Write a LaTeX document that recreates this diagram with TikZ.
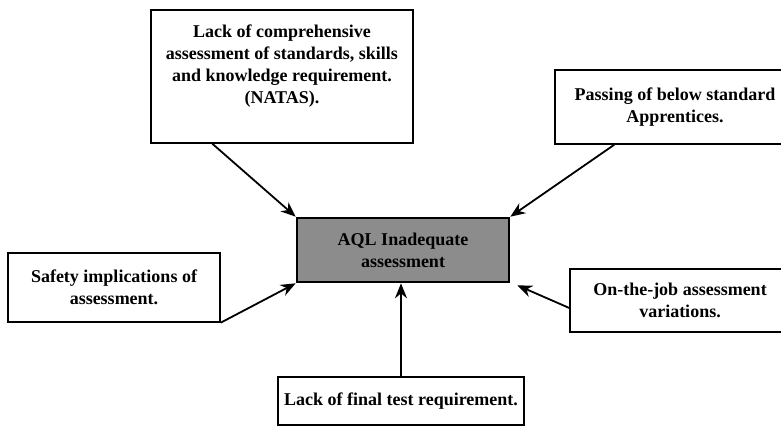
\documentclass[tikz,border=0pt]{standalone}
\usepackage{fontspec}
\setmainfont{Liberation Serif}
\usetikzlibrary{arrows.meta,positioning}
\tikzset{
  causebox/.style={draw, line width=1.4pt, inner sep=0pt, align=center,
    font=\bfseries\fontsize{18}{22}\selectfont},
  causetext/.style={inner sep=0pt, align=center,
    font=\bfseries\fontsize{18}{22}\selectfont},
  effectbox/.style={causebox, line width=2.6pt, fill=black!45},
  cause/.style={-{Stealth[length=15pt,width=12pt]}, line width=1.8pt},
}
\begin{document}
\begin{tikzpicture}[x=1pt,y=-1pt]
\useasboundingbox (0,0) rectangle (781,427);
\clip (0,0) rectangle (781,427);
% effect in the middle
\node[effectbox, minimum width=212pt, minimum height=64pt] (aql) at (403,250) {AQL Inadequate\\assessment};
% causes round it
\node[causebox, minimum width=262pt, minimum height=133pt] (natas) at (282,76.5) {};
\node[causetext, below=15pt of natas.north] (natastext) {Lack of comprehensive\\assessment of standards, skills\\and knowledge requirement.\\(NATAS).};
\node[causebox, minimum width=240pt, minimum height=74pt] (passing) at (675,107) {Passing of below standard\\Apprentices.};
\node[causebox, minimum width=212pt, minimum height=69pt] (safety) at (114,287.5) {Safety implications of\\assessment.};
\node[causebox, minimum width=220pt, minimum height=63pt] (onjob) at (680,300.5) {On-the-job assessment\\variations.};
\node[causebox, minimum width=246pt, minimum height=48pt] (finaltest) at (401,401) {Lack of final test requirement.};

\draw[cause] ([xshift=62pt]natas.south west) -- (aql.north west);
\draw[cause] ([xshift=60pt]passing.south west) -- (aql.north east);
\draw[cause] (safety.south east) -- (aql.south west);
\draw[cause] ([yshift=-7.5pt]onjob.west) -- ([shift={(7pt,-2pt)}]aql.south east);
\draw[cause] (finaltest.north) -- (finaltest.north |- aql.south);

\end{tikzpicture}
\end{document}
